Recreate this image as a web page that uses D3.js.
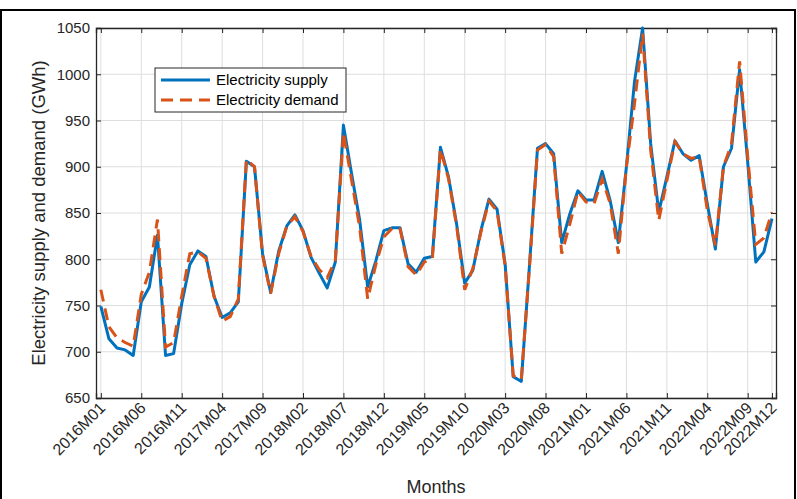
<!DOCTYPE html>
<html><head><meta charset="utf-8">
<script src="https://cdn.jsdelivr.net/npm/d3@7"></script>
<style>body{margin:0;background:#fff;} svg{display:block;font-family:"Liberation Sans",Arial,sans-serif;}</style>
</head><body>
<svg id="c" width="797" height="499"></svg>
<script>
const months = [];
for (let y = 2016; y <= 2022; y++) for (let m = 1; m <= 12; m++) months.push(y + "M" + String(m).padStart(2, "0"));

const supply = [
749, 714, 704, 702, 696, 754, 770, 826, 696, 698, 752, 794,
809, 803, 760, 737, 742, 754, 906, 900, 806, 764, 809, 836,
848, 831, 802, 785, 769, 797, 945, 893, 843, 770, 798, 831,
834, 834, 795, 786, 801, 803, 921, 889, 838, 774, 788, 831,
865, 854, 795, 673, 668, 792, 920, 925, 914, 818, 849, 874,
864, 864, 895, 863, 818, 900, 992, 1050, 925, 851, 889, 928,
914, 907, 912, 860, 811, 900, 920, 1005, 905, 797, 808, 844
];
const demand = [
767, 727, 715, 710, 706, 762, 786, 843, 705, 710, 760, 806,
808, 801, 760, 733, 738, 757, 908, 900, 804, 763, 806, 836,
846, 830, 803, 789, 780, 799, 937, 886, 835, 757, 794, 824,
833, 833, 792, 783, 797, 801, 919, 887, 836, 767, 790, 829,
863, 852, 793, 674, 670, 790, 918, 924, 911, 806, 838, 873,
862, 860, 887, 860, 806, 900, 968, 1044, 918, 842, 885, 927,
914, 909, 911, 853, 815, 900, 925, 1014, 911, 816, 823, 851
];
const xTickIdx = [0,5,10,15,20,25,30,35,40,45,50,55,60,65,70,75,80,83];
const yTicks = [650,700,750,800,850,900,950,1000,1050];
const seriesNames = ["Electricity supply", "Electricity demand"];

const svg = d3.select("#c");
const L = 96, R = 776, T = 28, B = 398;
const x = d3.scaleLinear().domain([-0.6, 83.5]).range([L, R]);
const y = d3.scaleLinear().domain([650, 1050]).range([B, T]);

// outer frame
svg.append("path").attr("d", `M1,499 L1,10 L795,10 L795,499`).attr("fill","none").attr("stroke","#000").attr("stroke-width",2);

// grid
const g = svg.append("g");
g.selectAll(".gx").data(xTickIdx).join("line")
  .attr("x1", d => x(d)).attr("x2", d => x(d)).attr("y1", T).attr("y2", B)
  .attr("stroke", "#dedede").attr("stroke-width", 1);
g.selectAll(".gy").data(yTicks).join("line")
  .attr("x1", L).attr("x2", R).attr("y1", d => y(d)).attr("y2", d => y(d))
  .attr("stroke", "#dedede").attr("stroke-width", 1);

// axes via d3 axes (ticks inward)
const axB = d3.axisBottom(x).tickValues(xTickIdx).tickSize(-5).tickFormat(d => months[d]);
const axT = d3.axisTop(x).tickValues(xTickIdx).tickSize(-5).tickFormat("");
const axLft = d3.axisLeft(y).tickValues(yTicks).tickSize(-5).tickPadding(6).tickFormat(d3.format("d"));
const axRt = d3.axisRight(y).tickValues(yTicks).tickSize(-5).tickFormat("");

const gb = svg.append("g").attr("transform", `translate(0,${B})`).call(axB);
gb.selectAll("text").attr("font-size", 16).attr("fill", "#262626")
  .attr("text-anchor", "end").attr("dy", null).attr("dx", null)
  .attr("transform", "translate(5,11) rotate(-45)").attr("y", 0).attr("x", 0);
svg.append("g").attr("transform", `translate(0,${T})`).call(axT);
const gl = svg.append("g").attr("transform", `translate(${L},0)`).call(axLft);
gl.selectAll("text").attr("font-size", 15).attr("fill", "#262626");
svg.append("g").attr("transform", `translate(${R},0)`).call(axRt);
svg.selectAll(".domain").attr("stroke", "#262626").attr("stroke-width", 1.3);
svg.selectAll(".tick line").attr("stroke", "#262626");

// clip
svg.append("clipPath").attr("id","clp").append("rect").attr("x",L).attr("y",T-2).attr("width",R-L).attr("height",B-T+2);

const line = d3.line().x((d,i) => x(i)).y(d => y(d));
const pl = svg.append("g").attr("clip-path","url(#clp)");
pl.append("path").datum(supply).attr("d", line).attr("fill","none")
  .attr("stroke","#0072BD").attr("stroke-width",3).attr("stroke-linejoin","round");
pl.append("path").datum(demand).attr("d", line).attr("fill","none")
  .attr("stroke","#D95319").attr("stroke-width",3).attr("stroke-dasharray","12,7");

// legend
const lg = svg.append("g");
lg.append("rect").attr("x",155).attr("y",68).attr("width",191).attr("height",44)
  .attr("fill","#fff").attr("stroke","#262626").attr("stroke-width",1);
const colors = ["#0072BD","#D95319"];
seriesNames.forEach((n,i) => {
  const yy = 80 + i*20;
  lg.append("line").attr("x1",161).attr("x2",210).attr("y1",yy).attr("y2",yy)
    .attr("stroke",colors[i]).attr("stroke-width",3).attr("stroke-dasharray", i ? "12,7" : null);
  lg.append("text").attr("x",216).attr("y",yy+5).attr("font-size",15).attr("fill","#000").text(n);
});

// axis labels
svg.append("text").attr("x",(L+R)/2).attr("y",493).attr("text-anchor","middle")
  .attr("font-size",18).attr("fill","#262626").text("Months");
svg.append("text").attr("transform",`translate(45,${(T+B)/2}) rotate(-90)`).attr("text-anchor","middle")
  .attr("font-size",18.5).attr("fill","#262626").text("Electricity supply and demand (GWh)");
</script>
</body></html>
